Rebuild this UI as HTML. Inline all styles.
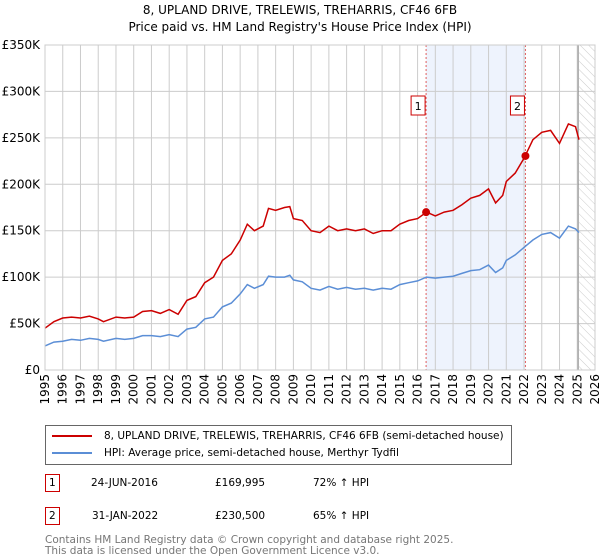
<!DOCTYPE html>
<html><head><meta charset="utf-8"><style>
body{margin:0;background:#fff;font-family:"DejaVu Sans","Liberation Sans",sans-serif;}
#wrap{position:relative;width:600px;height:560px;overflow:hidden}
.t{position:absolute;font-size:12px;color:#000}
</style></head><body><div id="wrap">
<div class="t" style="left:0;width:600px;text-align:center;top:2px;font-size:12px;line-height:17px">8, UPLAND DRIVE, TRELEWIS, TREHARRIS, CF46 6FB<br>Price paid vs. HM Land Registry's House Price Index (HPI)</div>
<svg id="chart" width="600" height="420" style="position:absolute;left:0;top:0"></svg>
<div style="position:absolute;left:45px;top:425px;width:465px;height:38px;border:1px solid #666;font-size:10.5px">
<div style="position:absolute;left:6px;top:4px;white-space:nowrap"><span style="display:inline-block;width:40px;height:2px;background:#cc0000;vertical-align:middle;margin-right:12px"></span>8, UPLAND DRIVE, TRELEWIS, TREHARRIS, CF46 6FB (semi-detached house)</div>
<div style="position:absolute;left:6px;top:21px;white-space:nowrap"><span style="display:inline-block;width:40px;height:2px;background:#5b8ed6;vertical-align:middle;margin-right:12px"></span>HPI: Average price, semi-detached house, Merthyr Tydfil</div>
</div>
<div style="position:absolute;left:45px;top:474px;font-size:10.5px;width:500px;height:20px">
<span style="position:absolute;left:0;top:0;border:1px solid #cc0000;padding:2px 3px">1</span><span style="position:absolute;left:46px;top:3px">24-JUN-2016</span><span style="position:absolute;left:170px;top:3px">£169,995</span><span style="position:absolute;left:268px;top:3px">72% ↑ HPI</span></div>
<div style="position:absolute;left:45px;top:507px;font-size:10.5px;width:500px;height:20px">
<span style="position:absolute;left:0;top:0;border:1px solid #cc0000;padding:2px 3px">2</span><span style="position:absolute;left:47px;top:3px">31-JAN-2022</span><span style="position:absolute;left:170px;top:3px">£230,500</span><span style="position:absolute;left:268px;top:3px">65% ↑ HPI</span></div>
<div style="position:absolute;left:45px;top:535px;font-size:10.5px;color:#777;line-height:11px">Contains HM Land Registry data © Crown copyright and database right 2025.<br>This data is licensed under the Open Government Licence v3.0.</div>
</div>
<script>
const yTicks=[0,50,100,150,200,250,300,350];
const yTickLabels=["£0","£50K","£100K","£150K","£200K","£250K","£300K","£350K"];
const xYears=[1995,1996,1997,1998,1999,2000,2001,2002,2003,2004,2005,2006,2007,2008,2009,2010,2011,2012,2013,2014,2015,2016,2017,2018,2019,2020,2021,2022,2023,2024,2025,2026];
const dates=[1995,1995.5,1996,1996.5,1997,1997.5,1998,1998.3,1999,1999.5,2000,2000.5,2001,2001.5,2002,2002.5,2003,2003.5,2004,2004.5,2005,2005.5,2006,2006.4,2006.8,2007.3,2007.6,2008,2008.5,2008.8,2009,2009.5,2010,2010.5,2011,2011.5,2012,2012.5,2013,2013.5,2014,2014.5,2015,2015.5,2016,2016.5,2017,2017.5,2018,2018.5,2019,2019.5,2020,2020.4,2020.8,2021,2021.5,2022,2022.5,2023,2023.5,2024,2024.5,2024.9,2025.1];
const hpi=[26,30,31,33,32,34,33,31,34,33,34,37,37,36,38,36,44,46,55,57,68,72,82,92,88,92,101,100,100,102,97,95,88,86,90,87,89,87,88,86,88,87,92,94,96,100,99,100,101,104,107,108,113,105,110,118,124,132,140,146,148,142,155,152,148];
const prop=[45,52,56,57,56,58,55,52,57,56,57,63,64,61,65,60,75,79,94,100,118,125,140,157,150,155,174,172,175,176,163,161,150,148,155,150,152,150,152,147,150,150,157,161,163,170,166,170,172,178,185,188,195,180,188,203,212,228,248,256,258,244,265,262,248];
const saleDates=[2016.48,2022.08];
const salePrices=[169.995,230.5];
const saleLabels=["1","2"];
const X0=45,X1=595,Y0=370,Y1=45;
const FONT='DejaVu Sans,Liberation Sans,sans-serif';
const x=d=>X0+(d-1995)/(2026-1995)*(X1-X0);
const y=v=>Y0-v/350*(Y0-Y1);
const svg=document.getElementById('chart');const NS='http://www.w3.org/2000/svg';
function mk(t,a,p){const e=document.createElementNS(NS,t);for(const k in a)e.setAttribute(k,a[k]);(p||svg).appendChild(e);return e;}
const defs=mk('defs',{});
const pat=mk('pattern',{id:'hatch',width:6,height:6,patternUnits:'userSpaceOnUse',patternTransform:'rotate(-45)'},defs);
mk('line',{x1:0,y1:0,x2:0,y2:6,stroke:'#ccc','stroke-width':1},pat);
let band=mk('rect',{x:x(saleDates[0]),y:Y1,width:x(saleDates[1])-x(saleDates[0]),height:Y0-Y1,fill:'#eef3fd'});

let hatch=mk('rect',{x:x(2025.1),y:Y1,width:X1-x(2025.1),height:Y0-Y1,fill:'url(#hatch)'});

yTicks.forEach((v,i)=>{
 let g=mk('line',{x1:X0,x2:X1,y1:y(v),y2:y(v),stroke:'#ccc','stroke-width':1});
 
 let t=mk('text',{x:40,y:y(v)+4,'text-anchor':'end','font-size':12,'font-family':FONT});
 t.textContent=yTickLabels[i];
 
});
xYears.forEach(yr=>{
 let g=mk('line',{x1:x(yr),x2:x(yr),y1:Y1,y2:Y0,stroke:'#ccc','stroke-width':1});
 
 let t=mk('text',{transform:`translate(${x(yr)+4},${Y0+4}) rotate(-90)`,'text-anchor':'end','font-size':12,'font-family':FONT});
 t.textContent=yr;
 
});
let vl=mk('line',{x1:x(2025.05),x2:x(2025.05),y1:Y1,y2:Y0,stroke:'#888','stroke-width':1});

saleDates.forEach((d,i)=>{
 let l=mk('line',{x1:x(d),x2:x(d),y1:Y1,y2:Y0,stroke:'#e06060','stroke-width':1,'stroke-dasharray':'2,2'});
 
});
const pts=a=>dates.map((d,i)=>x(d).toFixed(1)+','+y(a[i]).toFixed(1)).join(' ');
let hl=mk('polyline',{points:pts(hpi),fill:'none',stroke:'#5b8ed6','stroke-width':1.5});

let pl=mk('polyline',{points:pts(prop),fill:'none',stroke:'#cc0000','stroke-width':1.5});

saleDates.forEach((d,i)=>{
 let c=mk('circle',{cx:x(d),cy:y(salePrices[i]),r:4,fill:'#cc0000'});
 
 let r=mk('rect',{x:x(d)-15,y:96,width:14,height:19,fill:'#fff',stroke:'#cc0000','stroke-width':1});
 
 let t=mk('text',{x:x(d)-8,y:110,'text-anchor':'middle','font-size':11,'font-family':FONT});
 t.textContent=saleLabels[i];
 
});
let fr=mk('rect',{x:X0,y:Y1,width:X1-X0,height:Y0-Y1,fill:'none',stroke:'#ccc'});

</script></body></html>
